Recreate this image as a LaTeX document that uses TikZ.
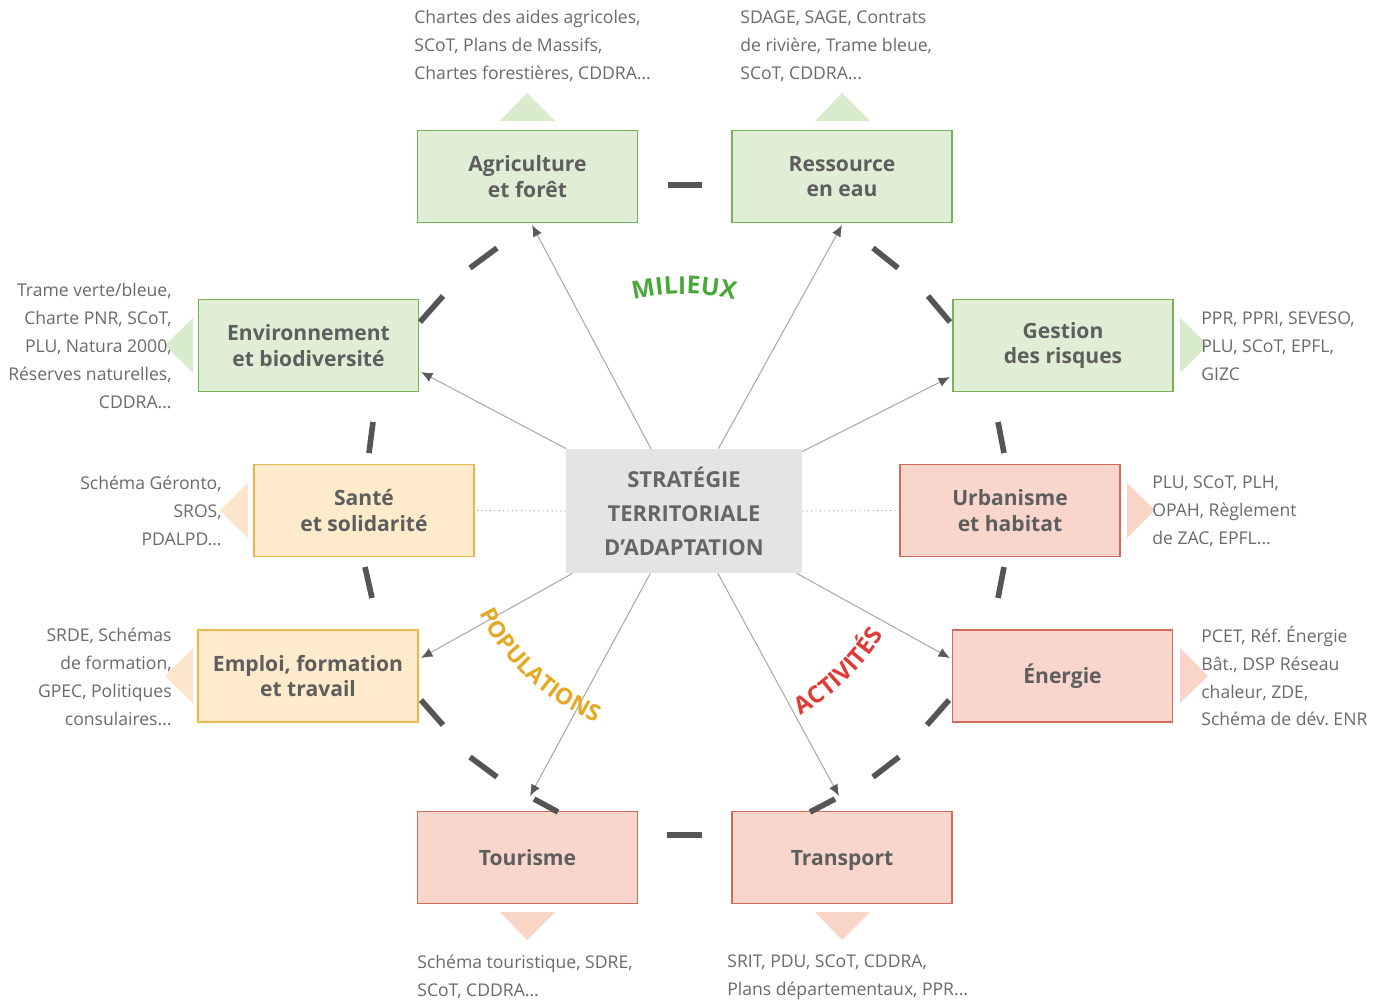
\documentclass[tikz,border=0pt]{standalone}
\usepackage{fontspec}
\setmainfont{Open Sans}
\frenchspacing
\usetikzlibrary{arrows.meta,decorations.text}
\definecolor{grnfill}{HTML}{E0EED6}
\definecolor{grnline}{HTML}{78B258}
\definecolor{yelfill}{HTML}{FDEBCC}
\definecolor{yelline}{HTML}{E8B64C}
\definecolor{redfill}{HTML}{F9D6CC}
\definecolor{redline}{HTML}{D26A5E}
\definecolor{ctrfill}{HTML}{E4E4E6}
\definecolor{grntri}{HTML}{D9EBCD}
\definecolor{yeltri}{HTML}{FDE5CC}
\definecolor{redtri}{HTML}{F9D5C8}
\definecolor{sidetxt}{HTML}{6A6A6A}
\definecolor{boxtxt}{HTML}{5E5E5E}
\definecolor{linkgray}{HTML}{AAAAAA}
\definecolor{tipgray}{HTML}{5A5A5A}
\definecolor{ringgray}{HTML}{555555}
\definecolor{milieux}{HTML}{4AA83A}
\definecolor{popul}{HTML}{E5A823}
\definecolor{activ}{HTML}{DF3A33}
\begin{document}
\frenchspacing
\begin{tikzpicture}[x=0.02cm,y=-0.02cm,
  box/.style={draw,line width=0.9pt,minimum width=4.4cm,minimum height=1.84cm,inner sep=0pt,align=center,text=boxtxt,font=\fontsize{12}{14.7}\selectfont\bfseries},
  gbox/.style={box,fill=grnfill,draw=grnline},
  ybox/.style={box,fill=yelfill,draw=yelline},
  rbox/.style={box,fill=redfill,draw=redline},
  oneline/.style={text height=8.8pt,text depth=0pt},
  side/.style={inner sep=0pt,text=sidetxt,font=\fontsize{10}{15.9}\selectfont},
  link/.style={draw=linkgray,line width=0.6pt,-{Latex[length=6.5pt,width=5.5pt,color=tipgray]}},
  dotlink/.style={draw=linkgray!80!black,line width=0.5pt,dotted},
  ring/.style={draw=ringgray,line width=3.2pt}
]
\useasboundingbox[fill=white] (0,0) rectangle (1392,1005);

% pointer triangles
\fill[grntri] (500,121) -- (555,121) -- (527,93) -- cycle;
\fill[grntri] (815,121) -- (870,121) -- (842,93) -- cycle;
\fill[grntri] (193,318) -- (193,373) -- (165,345) -- cycle;
\fill[grntri] (1180,318) -- (1180,373) -- (1208,345) -- cycle;
\fill[yeltri] (248,483) -- (248,538) -- (220,510) -- cycle;
\fill[redtri] (1127,483) -- (1127,538) -- (1155,510) -- cycle;
\fill[yeltri] (193,648) -- (193,703) -- (165,676) -- cycle;
\fill[redtri] (1180,648) -- (1180,703) -- (1208,676) -- cycle;
\fill[redtri] (500,912) -- (555,912) -- (527,940) -- cycle;
\fill[redtri] (815,912) -- (870,912) -- (842,940) -- cycle;

% boxes
\node[gbox] (agr) at (527.5,176.5) {Agriculture\\et forêt};
\node[gbox] (res) at (842,176.5) {Ressource\\en eau};
\node[gbox] (env) at (308.5,345.5) {Environnement\\et biodiversité};
\node[gbox] (ges) at (1063,345.5) {Gestion\\des risques};
\node[ybox] (san) at (364,510.5) {Santé\\et solidarité};
\node[rbox] (urb) at (1010,510.5) {Urbanisme\\et habitat};
\node[ybox] (emp) at (308,676) {Emploi, formation\\et travail};
\node[rbox,oneline] (ene) at (1062.5,676) {Énergie};
\node[rbox,oneline] (tou) at (527.5,857.5) {Tourisme};
\node[rbox,oneline] (tra) at (842,857.5) {Transport};
\node[fill=ctrfill,minimum width=4.72cm,minimum height=2.48cm,inner sep=0pt,align=center,text=boxtxt!95!white,font=\fontsize{12.5}{19.3}\selectfont\bfseries] (ctr) at (684,511) {STRATÉGIE\\TERRITORIALE\\D’ADAPTATION};

% side texts
\node[side,anchor=west,align=left] (agrt) at (414,46) {Chartes des aides agricoles,\\SCoT, Plans de Massifs,\\Chartes forestières, CDDRA...};
\node[side,anchor=west,align=left] (rest) at (740,46) {SDAGE, SAGE, Contrats\\de rivière, Trame bleue,\\SCoT, CDDRA...};
\node[side,anchor=east,align=right] (envt) at (172,346) {Trame verte/bleue,\\Charte PNR, SCoT,\\PLU, Natura 2000,\\Réserves naturelles,\\CDDRA...};
\node[side,anchor=west,align=left] (gest) at (1201,346) {PPR, PPRI, SEVESO,\\PLU, SCoT, EPFL,\\GIZC};
\node[side,anchor=east,align=right] (sant) at (222,511) {Schéma Géronto,\\SROS,\\PDALPD...};
\node[side,anchor=west,align=left] (urbt) at (1152,511) {PLU, SCoT, PLH,\\OPAH, Règlement\\de ZAC, EPFL...};
\node[side,anchor=east,align=right] (empt) at (172,677) {SRDE, Schémas\\de formation,\\GPEC, Politiques\\consulaires...};
\node[side,anchor=west,align=left] (enet) at (1201,676) {PCET, Réf. Énergie\\Bât., DSP Réseau\\chaleur, ZDE,\\Schéma de dév. ENR};
\node[side,anchor=west,align=left] (tout) at (417,977) {Schéma touristique, SDRE,\\SCoT, CDDRA...};
\node[side,anchor=west,align=left] (trat) at (727,977) {SRIT, PDU, SCoT, CDDRA,\\Plans départementaux, PPR...};

% ring of dashes
\draw[ring] (668,185) -- (702,185);
\draw[ring] (667,835) -- (702,835);
\draw[ring] (497,248) -- (470,268);
\draw[ring] (443,296) -- (420,322);
\draw[ring] (873,248) -- (898,268);
\draw[ring] (928,296) -- (950,322);
\draw[ring] (373,422) -- (369,453);
\draw[ring] (365,567) -- (372,598);
\draw[ring] (998,422) -- (1004,453);
\draw[ring] (1004,567) -- (998,598);
\draw[ring] (421,700) -- (443,725);
\draw[ring] (470,757) -- (497,777);
\draw[ring] (558,812) -- (534,799);
\draw[ring] (949,700) -- (927,725);
\draw[ring] (899,757) -- (873,777);
\draw[ring] (810,812) -- (835,799);

% arrow targets
\coordinate (ta) at (532,225);
\coordinate (tr) at (842,225);
\coordinate (te) at (421,372);
\coordinate (tg) at (950,377);
\coordinate (tem) at (421,658);
\coordinate (ten) at (950,658);
\coordinate (tt) at (530,796);
\coordinate (ttr) at (839,796);

\draw[link] (ctr) -- (ta);
\draw[link] (ctr) -- (tr);
\draw[link] (ctr) -- (te);
\draw[link] (ctr) -- (tg);
\draw[link] (ctr) -- (tem);
\draw[link] (ctr) -- (ten);
\draw[link] (ctr) -- (tt);
\draw[link] (ctr) -- (ttr);
\draw[dotlink] (ctr.west) -- (san.east);
\draw[dotlink] (ctr.east) -- (urb.west);

% curved labels
\path[decorate,decoration={text along path,text align=center,
  text={|\fontsize{14}{14}\selectfont\bfseries\color{milieux}|MILIEUX}}]
  (684,511) ++(230:217) arc[start angle=230,end angle=310,radius=217];
\path[decorate,decoration={text along path,text align=center,
  text={|\fontsize{13}{13}\selectfont\bfseries\color{popul}|POPULATIONS}}]
  (684,511) ++(173:229) arc[start angle=173,end angle=93,radius=229];
\path[decorate,decoration={text along path,text align=center,
  text={|\fontsize{13.5}{13.5}\selectfont\bfseries\color{activ}|ACTIVITÉS}}]
  (684,511) ++(86:235) arc[start angle=86,end angle=6,radius=235];
\end{tikzpicture}
\end{document}
